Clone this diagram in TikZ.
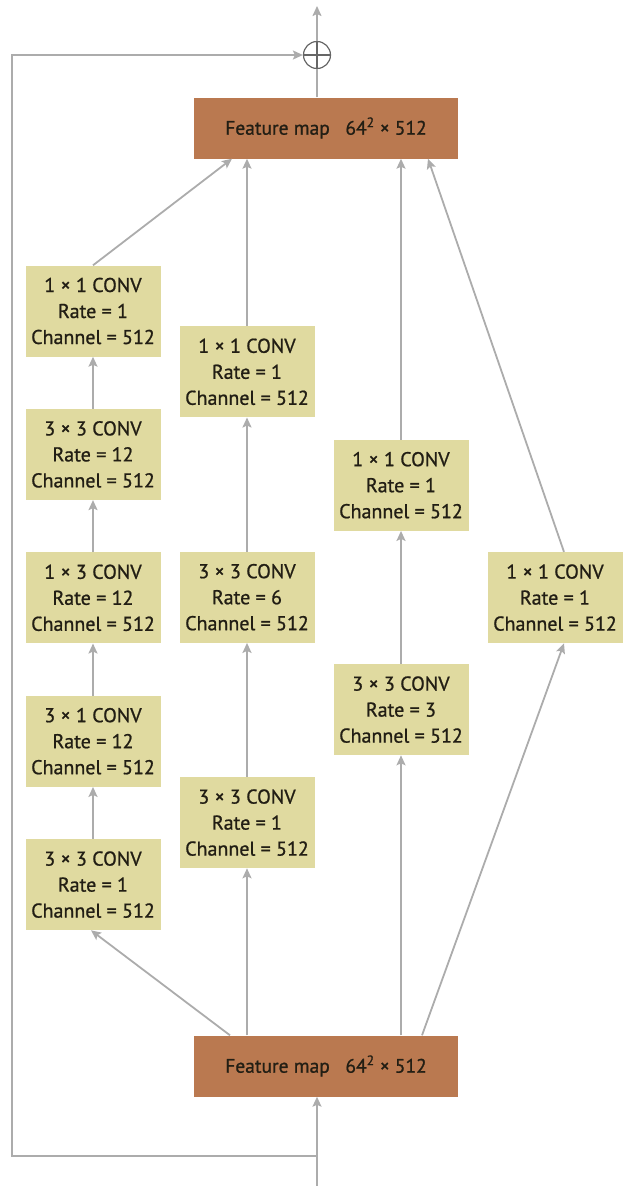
\documentclass[tikz,border=0pt]{standalone}
\usepackage{fontspec}
\setmainfont{PT Sans}
\newfontfamily\boxfont{PT Sans}[FakeBold=0.9]
\usepackage{tikz}
\usetikzlibrary{positioning,arrows.meta}
\usepackage{xcolor}
\definecolor{fmapcol}{RGB}{186,121,80}
\definecolor{convcol}{RGB}{224,218,160}
\definecolor{linecol}{RGB}{172,172,172}
\definecolor{textcol}{RGB}{34,30,20}

\begin{document}
\begin{tikzpicture}[
    x=1pt, y=1pt,
    fmap/.style={fill=fmapcol, minimum width=264pt, minimum height=61pt, text=textcol, font=\boxfont\fontsize{19.5}{24}\selectfont},
    conv/.style={fill=convcol, minimum width=135pt, minimum height=91pt, align=center, inner sep=2pt, text=textcol, font=\boxfont\fontsize{20}{26}\selectfont},
    arrow/.style={-{Stealth[length=10pt, width=9pt, inset=2pt]}, draw=linecol, line width=1.8pt},
    link/.style={draw=linecol, line width=1.8pt},
    node distance=52pt
]
    \useasboundingbox (0,0) rectangle (622,-1186);

    % Feature maps
    \node[fmap] (fmin) at (326,-1066) {Feature map\hspace{0.8em}64\textsuperscript{2} × 512};
    \node[fmap] (fmout) at (326,-128) {Feature map\hspace{0.8em}64\textsuperscript{2} × 512};

    % Branch 1
    \node[conv, above=105pt of fmin, xshift=-233pt] (c1a) {3 × 3 CONV\\Rate = 1\\Channel = 512};
    \node[conv, above=of c1a] (c1b) {3 × 1 CONV\\Rate = 12\\Channel = 512};
    \node[conv, above=of c1b] (c1c) {1 × 3 CONV\\Rate = 12\\Channel = 512};
    \node[conv, above=of c1c] (c1d) {3 × 3 CONV\\Rate = 12\\Channel = 512};
    \node[conv, above=of c1d] (c1e) {1 × 1 CONV\\Rate = 1\\Channel = 512};

    % Branch 2
    \node[conv, above=167pt of fmin, xshift=-79pt] (c2a) {3 × 3 CONV\\Rate = 1\\Channel = 512};
    \node[conv, above=134pt of c2a] (c2b) {3 × 3 CONV\\Rate = 6\\Channel = 512};
    \node[conv, above=134pt of c2b] (c2c) {1 × 1 CONV\\Rate = 1\\Channel = 512};

    % Branch 3
    \node[conv, above=280pt of fmin, xshift=75pt] (c3a) {3 × 3 CONV\\Rate = 3\\Channel = 512};
    \node[conv, above=133pt of c3a] (c3b) {1 × 1 CONV\\Rate = 1\\Channel = 512};

    % Branch 4
    \node[conv, above=392pt of fmin, xshift=229pt] (c4) {1 × 1 CONV\\Rate = 1\\Channel = 512};

    % Sum
    \node[circle, draw=black!60, line width=1.2pt, minimum size=27pt, inner sep=0pt,
          path picture={\draw[black!60, line width=1.2pt]
              (path picture bounding box.north) -- (path picture bounding box.south)
              (path picture bounding box.west) -- (path picture bounding box.east);}]
          (sum) at (317,-55) {};

    \coordinate (in) at (317,-1186);
    \coordinate (split) at (317,-1156);
    \coordinate (back) at (12,-1156);
    \coordinate (out) at (317,-6);

    % Arrows
    \draw[arrow] (in) -- (fmin.south -| in);
    \draw[arrow] (split) -- (back) |- (sum.west);
    \draw[link] (fmout.north -| sum) -- (sum.south);
    \draw[arrow] (sum.north) -- (out);

    \draw[arrow] ([xshift=-96pt]fmin.north) -- ([xshift=-2pt]c1a.south);
    \draw[arrow] (c1a) -- (c1b);
    \draw[arrow] (c1b) -- (c1c);
    \draw[arrow] (c1c) -- (c1d);
    \draw[arrow] (c1d) -- (c1e);
    \draw[arrow] (c1e.north) -- ([xshift=-94pt]fmout.south);

    \draw[arrow] (fmin.north -| c2a) -- (c2a);
    \draw[arrow] (c2a) -- (c2b);
    \draw[arrow] (c2b) -- (c2c);
    \draw[arrow] (c2c) -- (fmout.south -| c2c);

    \draw[arrow] (fmin.north -| c3a) -- (c3a);
    \draw[arrow] (c3a) -- (c3b);
    \draw[arrow] (c3b) -- (fmout.south -| c3b);

    \draw[arrow] ([xshift=96pt]fmin.north) -- ([xshift=9pt]c4.south);
    \draw[arrow] ([xshift=9pt]c4.north) -- ([xshift=102pt]fmout.south);
\end{tikzpicture}
\end{document}
